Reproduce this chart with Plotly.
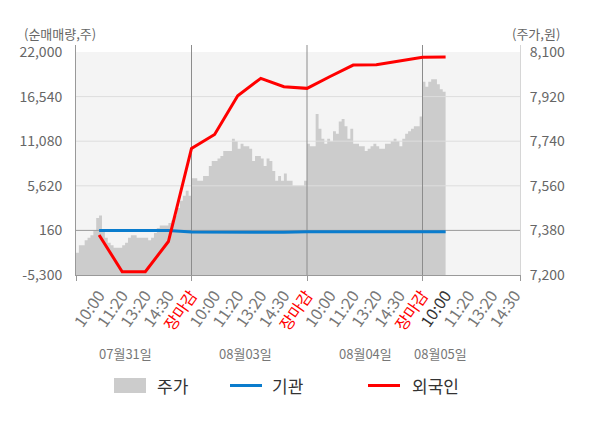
import plotly.graph_objects as go

# =============================================================================
# DATA
# =============================================================================

slot_labels = ["10:00", "11:20", "13:20", "14:30", "장마감"]
day_labels = ["07월31일", "08월03일", "08월04일", "08월05일"]

# 주가 (원), sampled evenly through each trading day
SAMPLES_PER_DAY = 40
price_day1 = [7290, 7320, 7320, 7340, 7350, 7360, 7380, 7430, 7440, 7380,
              7350, 7330, 7320, 7310, 7310, 7310, 7320, 7330, 7350, 7360,
              7360, 7350, 7350, 7350, 7350, 7340, 7350, 7370, 7390, 7400,
              7400, 7400, 7410, 7420, 7440, 7470, 7500, 7520, 7540, 7520]
price_day2 = [7590, 7590, 7580, 7580, 7600, 7600, 7640, 7660, 7660, 7670,
              7680, 7700, 7700, 7700, 7750, 7740, 7710, 7730, 7720, 7720,
              7710, 7660, 7680, 7680, 7670, 7640, 7670, 7660, 7620, 7580,
              7600, 7580, 7610, 7580, 7580, 7560, 7560, 7560, 7560, 7580]
price_day3 = [7730, 7720, 7720, 7850, 7790, 7750, 7730, 7750, 7740, 7780,
              7770, 7820, 7830, 7800, 7750, 7790, 7730, 7730, 7720, 7720,
              7700, 7710, 7720, 7730, 7720, 7710, 7710, 7730, 7730, 7740,
              7750, 7740, 7720, 7750, 7770, 7780, 7790, 7800, 7800, 7840]
price_day4 = [7980, 7960, 7980, 7990, 7990, 7970, 7950, 7940, 7970]

# 순매매량 (주), one value per time slot (10:00 of day 1 ... 10:00 of day 4)
foreign_net = [-400, -4900, -4900, -1200, 10200, 11900, 16650, 18770,
               17750, 17550, 19000, 20400, 20450, 20900, 21350, 21400]
inst_net = [150, 150, 150, 150, -50, -60, -60, -60,
            -60, 0, 0, 0, 0, 0, 0, 0]

vol_ticks = [-5300, 160, 5620, 11080, 16540, 22000]
price_ticks = [7200, 7380, 7560, 7740, 7920, 8100]

# =============================================================================
# GEOMETRY  (page pixels; the page body adds an 8px offset)
# =============================================================================

PAGE_W, PAGE_H, BODY = 600, 428, 8
L, R, T, B = 76, 520, 45, 275          # plot box on the page
SLOTS = len(slot_labels)
X_MAX = 19.22
HEAD = 7 / (B - 52)                     # axes run a little above the top tick


def px(x):
    return (x - L) / (R - L)


def py(y):
    return (B - y) / (B - T)


price_days = [price_day1, price_day2, price_day3, price_day4]
price_x, price_y = [], []
for d, day in enumerate(price_days):
    for i, p in enumerate(day):
        price_x.append(d * SLOTS + i * SLOTS / SAMPLES_PER_DAY)
        price_y.append(p)

slot_x = list(range(1, len(foreign_net) + 1))

tick_vals, tick_text = [], []
for d in range(len(day_labels)):
    for s, lab in enumerate(slot_labels, start=1):
        pos = d * SLOTS + s
        if pos > X_MAX:
            continue
        if lab == "장마감":
            lab = '<span style="color:#ff0000">장마감</span>'
        elif d == len(day_labels) - 1 and s == 1:
            lab = '<span style="color:#333333">%s</span>' % lab
        tick_vals.append(pos)
        tick_text.append(lab)

p_lo, p_hi = price_ticks[0], price_ticks[-1]
v_lo, v_hi = vol_ticks[0], vol_ticks[-1]
p_top = p_hi + (p_hi - p_lo) * HEAD
v_top = v_hi + (v_hi - v_lo) * HEAD

# grid drawn as traces so it sits over the price area, under the lines
grid_x, grid_y = [], []
for v in price_ticks[2:-1]:
    grid_x += [0, X_MAX, None]
    grid_y += [v, v, None]

sep_x, sep_y = [], []
for d in range(1, len(day_labels)):
    sep_x += [d * SLOTS, d * SLOTS, None]
    sep_y += [p_lo, p_top, None]

# =============================================================================
# FIGURE
# =============================================================================

fig = go.Figure()

fig.add_trace(go.Scatter(
    x=price_x, y=price_y, name="주가", yaxis="y",
    mode="lines", line=dict(width=0, shape="hv"),
    fill="tozeroy", fillcolor="#cccccc", hoverinfo="skip",
))
fig.add_trace(go.Scatter(
    x=grid_x, y=grid_y, yaxis="y", mode="lines",
    line=dict(color="#dddddd", width=1), hoverinfo="skip",
))
fig.add_trace(go.Scatter(
    x=[0, X_MAX], y=[price_ticks[1]] * 2, yaxis="y", mode="lines",
    line=dict(color="#9a9a9a", width=1), hoverinfo="skip",
))
fig.add_trace(go.Scatter(
    x=sep_x, y=sep_y, yaxis="y", mode="lines",
    line=dict(color="#8c8c8c", width=1), hoverinfo="skip",
))

fig.add_trace(go.Scatter(
    x=slot_x, y=inst_net, name="기관", yaxis="y2", mode="lines",
    line=dict(color="#0a7ccd", width=3),
))
fig.add_trace(go.Scatter(
    x=slot_x, y=foreign_net, name="외국인", yaxis="y2", mode="lines",
    line=dict(color="#ff0000", width=3),
))

fig.update_layout(
    width=PAGE_W - BODY, height=PAGE_H - BODY,
    margin=dict(l=L - BODY, r=PAGE_W - R, t=T - BODY, b=PAGE_H - B),
    paper_bgcolor="white",
    plot_bgcolor="white",
    showlegend=False,
    font=dict(family="Noto Sans CJK KR, Noto Sans", size=14, color="#666666"),
    xaxis=dict(
        range=[0, X_MAX], tickvals=tick_vals, ticktext=tick_text,
        tickangle=-55, ticks="", showgrid=False, zeroline=False,
        tickfont=dict(size=16, color="#777777"), ticklabelstandoff=4,
        showline=True, linecolor="#999999", linewidth=1,
        minor=dict(tickvals=[0, 5, 10, 15, X_MAX], ticks="outside",
                   ticklen=5, tickcolor="#999999", showgrid=False),
    ),
    yaxis=dict(
        range=[p_lo, p_top], side="right",
        tickvals=price_ticks, ticktext=[f"{v:,}" for v in price_ticks],
        showgrid=False, zeroline=False, ticks="",
        showline=True, linecolor="#d6d6d6", linewidth=1,
        ticklabelstandoff=6,
    ),
    yaxis2=dict(
        range=[v_lo, v_top], overlaying="y", side="left",
        tickvals=vol_ticks, ticktext=[f"{v:,}" for v in vol_ticks],
        showgrid=False, zeroline=False, ticks="",
        showline=True, linecolor="#999999", linewidth=1,
        ticklabelstandoff=10,
    ),
)

# background band of the plot area
fig.add_shape(type="rect", xref="x domain", yref="y", x0=0, x1=1,
              y0=p_lo, y1=p_hi, fillcolor="#f4f4f4", line_width=0,
              layer="below")

# axis titles
fig.add_annotation(text="(순매매량,주)", xref="paper", yref="paper",
                   x=px(22), y=py(33), xanchor="left", yanchor="middle",
                   showarrow=False, font=dict(size=13, color="#666666"))
fig.add_annotation(text="(주가,원)", xref="paper", yref="paper",
                   x=px(562), y=py(33), xanchor="right", yanchor="middle",
                   showarrow=False, font=dict(size=13, color="#666666"))

# date labels under the time ticks
for lab, cx in zip(day_labels, [125, 245, 365, 440]):
    fig.add_annotation(text=lab, xref="paper", yref="paper",
                       x=px(cx), y=py(353), xanchor="center", yanchor="middle",
                       showarrow=False, font=dict(size=13, color="#777777"))

# legend
leg_y = py(385.5)
fig.add_shape(type="rect", xref="paper", yref="paper",
              x0=px(114), x1=px(146), y0=py(393), y1=py(378),
              fillcolor="#cccccc", line_width=0)
fig.add_shape(type="line", xref="paper", yref="paper",
              x0=px(230), x1=px(262), y0=leg_y, y1=leg_y,
              line=dict(color="#0a7ccd", width=3))
fig.add_shape(type="line", xref="paper", yref="paper",
              x0=px(368), x1=px(400), y0=leg_y, y1=leg_y,
              line=dict(color="#ff0000", width=3))
for lab, lx in [("주가", 155), ("기관", 270), ("외국인", 410)]:
    fig.add_annotation(text=lab, xref="paper", yref="paper",
                       x=px(lx), y=leg_y, xanchor="left", yanchor="middle",
                       showarrow=False, font=dict(size=17, color="#333333"))

fig.write_html("out.html")
